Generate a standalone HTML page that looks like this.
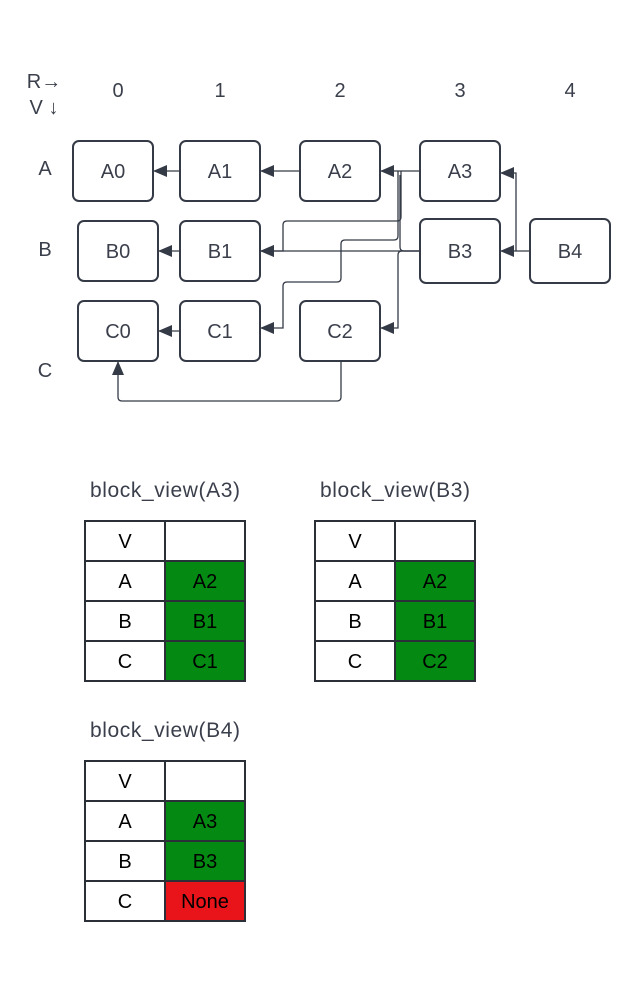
<!DOCTYPE html>
<html><head><meta charset="utf-8"><style>
html,body{margin:0;padding:0;background:#fff;}
svg{display:block;}
text{font-family:"Liberation Sans",sans-serif;}
</style></head><body>
<svg width="636" height="982" viewBox="0 0 636 982" xmlns="http://www.w3.org/2000/svg">
<defs>
<marker id="ar" viewBox="0 0 14 12" refX="14" refY="6" markerWidth="14" markerHeight="12" markerUnits="userSpaceOnUse" orient="auto">
<path d="M0,0 L14,6 L0,12 z" fill="#343a46"/></marker>
</defs>
<g font-size="20" fill="#3a3f4b" text-anchor="middle">
<text x="44" y="88">R→</text><text x="44" y="114">V ↓</text>
<text x="118" y="97">0</text><text x="220" y="97">1</text><text x="340" y="97">2</text><text x="460" y="97">3</text><text x="570" y="97">4</text>
<text x="45" y="175">A</text><text x="45" y="256">B</text><text x="45" y="377">C</text>
</g>
<g fill="none" stroke="#343a46" stroke-width="1.3">
<path d="M420,171 H380" marker-end="url(#ar)"/>
<path d="M300,171 H260" marker-end="url(#ar)"/>
<path d="M180,171 H153" marker-end="url(#ar)"/>
<path d="M180,251 H158" marker-end="url(#ar)"/>
<path d="M180,331 H158" marker-end="url(#ar)"/>
<path d="M401,171 V217 Q401,221 397,221 H287 Q283,221 283,225 V251 H260" marker-end="url(#ar)"/>
<path d="M398,171 V236 Q398,240 394,240 H345 Q341,240 341,244 V278 Q341,282 337,282 H287 Q283,282 283,286 V328 H260" marker-end="url(#ar)"/>
<path d="M420,251 H260" marker-end="url(#ar)"/>
<path d="M420,251 H404 Q400,251 400,247 V175" />
<path d="M420,251 H402 Q398,251 398,255 V328 H380" marker-end="url(#ar)"/>
<path d="M530,251 H500" marker-end="url(#ar)"/>
<path d="M516,251 V173 H500" marker-end="url(#ar)"/>
<path d="M341,361 V397 Q341,401 337,401 H122 Q118,401 118,397 V361" marker-end="url(#ar)"/>
</g>
<g fill="#fff" stroke="#343a46" stroke-width="2">
<rect x="73" y="141" width="80" height="60" rx="6"/>
<rect x="180" y="141" width="80" height="60" rx="6"/>
<rect x="300" y="141" width="80" height="60" rx="6"/>
<rect x="420" y="141" width="80" height="60" rx="6"/>
<rect x="78" y="221" width="80" height="60" rx="6"/>
<rect x="180" y="221" width="80" height="60" rx="6"/>
<rect x="420" y="219" width="80" height="64" rx="6"/>
<rect x="530" y="219" width="80" height="64" rx="6"/>
<rect x="78" y="301" width="80" height="60" rx="6"/>
<rect x="180" y="301" width="80" height="60" rx="6"/>
<rect x="300" y="301" width="80" height="60" rx="6"/>
</g>
<g font-size="20" fill="#3a3f4b" text-anchor="middle">
<text x="113" y="178">A0</text><text x="220" y="178">A1</text><text x="340" y="178">A2</text><text x="460" y="178">A3</text>
<text x="118" y="258">B0</text><text x="220" y="258">B1</text><text x="460" y="258">B3</text><text x="570" y="258">B4</text>
<text x="118" y="338">C0</text><text x="220" y="338">C1</text><text x="340" y="338">C2</text>
</g>
<g font-size="21" fill="#3a3f4b" text-anchor="middle">
<text x="165" y="497" textLength="150">block_view(A3)</text>
<text x="395" y="497" textLength="150">block_view(B3)</text>
<text x="165" y="737" textLength="150">block_view(B4)</text>
</g>
<g>
<rect x="165" y="561" width="80" height="120" fill="#048a12"/>
<rect x="395" y="561" width="80" height="120" fill="#048a12"/>
<rect x="165" y="801" width="80" height="80" fill="#048a12"/>
<rect x="165" y="881" width="80" height="40" fill="#e8141a"/>
</g>
<g fill="none" stroke="#2b2f38" stroke-width="2">
<rect x="85" y="521" width="160" height="160"/><path d="M165,521V681M85,561H245M85,601H245M85,641H245"/>
<rect x="315" y="521" width="160" height="160"/><path d="M395,521V681M315,561H475M315,601H475M315,641H475"/>
<rect x="85" y="761" width="160" height="160"/><path d="M165,761V921M85,801H245M85,841H245M85,881H245"/>
</g>
<g font-size="20" fill="#000" text-anchor="middle">
<text x="125" y="548">V</text><text x="125" y="588">A</text><text x="125" y="628">B</text><text x="125" y="668">C</text>
<text x="205" y="588">A2</text><text x="205" y="628">B1</text><text x="205" y="668">C1</text>
<text x="355" y="548">V</text><text x="355" y="588">A</text><text x="355" y="628">B</text><text x="355" y="668">C</text>
<text x="435" y="588">A2</text><text x="435" y="628">B1</text><text x="435" y="668">C2</text>
<text x="125" y="788">V</text><text x="125" y="828">A</text><text x="125" y="868">B</text><text x="125" y="908">C</text>
<text x="205" y="828">A3</text><text x="205" y="868">B3</text><text x="205" y="908">None</text>
</g>
</svg>
</body></html>
